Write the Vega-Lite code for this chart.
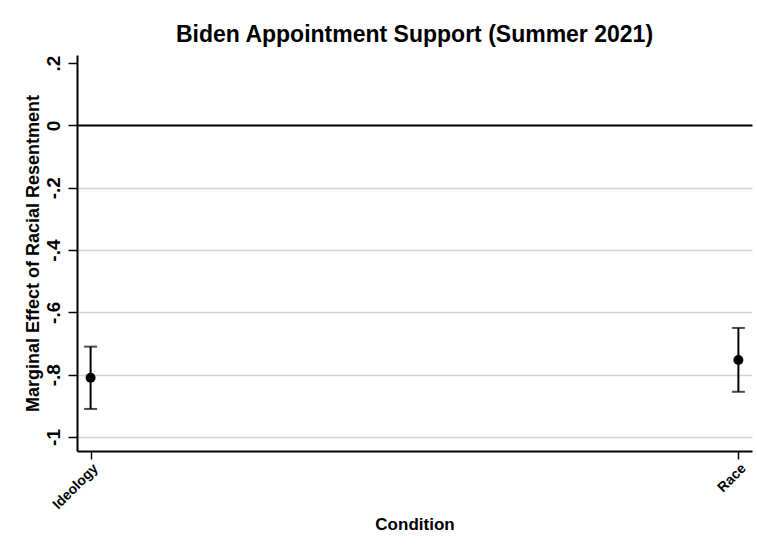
{
  "$schema": "https://vega.github.io/schema/vega-lite/v6.json",
  "width": 675,
  "height": 396,
  "autosize": {"type": "none"},
  "padding": {"left": 77, "top": 55, "right": 5, "bottom": 103},
  "background": "white",
  "config": {
    "font": "Liberation Sans",
    "view": {"stroke": null},
    "axis": {"domainColor": "black", "domainWidth": 2, "tickColor": "black", "tickWidth": 1.5, "tickSize": 8, "labelColor": "black", "titleColor": "black", "labelFontWeight": "bold", "titleFontWeight": "bold"}
  },
  "title": {"text": "Biden Appointment Support (Summer 2021)", "fontSize": 23, "fontWeight": "bold", "color": "black", "offset": 8, "anchor": "middle", "font": "Liberation Sans"},
  "data": {"values": [
    {"condition": "Ideology", "effect": -0.81, "lower": -0.91, "upper": -0.71},
    {"condition": "Race", "effect": -0.753, "lower": -0.855, "upper": -0.65}
  ]},
  "encoding": {
    "x": {"field": "condition", "type": "ordinal", "sort": null,
      "scale": {"type": "point", "padding": 0.021},
      "axis": {"title": "Condition", "titleFontSize": 17, "titlePadding": 5, "labelAngle": -45, "labelFontSize": 14, "labelPadding": 2, "grid": false}}
  },
  "layer": [
    {
      "data": {"values": [{"v": 0.2}, {"v": 0}, {"v": -0.2}, {"v": -0.4}, {"v": -0.6}, {"v": -0.8}, {"v": -1}]},
      "mark": {"type": "rule", "strokeWidth": 0, "opacity": 0},
      "encoding": {
        "x": null,
        "y": {"field": "v", "type": "quantitative",
          "scale": {"domain": [-1.045, 0.226], "nice": false, "zero": false},
          "axis": {"title": "Marginal Effect of Racial Resentment", "titleFontSize": 18, "titlePadding": 2,
            "values": [0.2, 0, -0.2, -0.4, -0.6, -0.8, -1],
            "tickSize": 9,
            "labelAngle": -90, "labelAlign": "center", "labelBaseline": "bottom", "labelFontSize": 19, "labelPadding": 5,
            "labelExpr": "datum.value == 0 ? '0' : (datum.value < 0 ? '-' : '') + replace(format(abs(datum.value), '~g'), '0.', '.')",
            "grid": true,
            "gridColor": {"condition": [{"test": "datum.value == 0", "value": "black"}, {"test": "datum.value > 0.1", "value": "transparent"}], "value": "#d4d4d4"},
            "gridWidth": {"condition": {"test": "datum.value == 0", "value": 2}, "value": 1.5}
          }}
      }
    },
    {
      "mark": {"type": "rule", "color": "black", "strokeWidth": 2},
      "encoding": {"y": {"field": "lower", "type": "quantitative"}, "y2": {"field": "upper"}}
    },
    {
      "mark": {"type": "tick", "color": "black", "thickness": 2, "size": 13},
      "encoding": {"y": {"field": "lower", "type": "quantitative"}}
    },
    {
      "mark": {"type": "tick", "color": "black", "thickness": 2, "size": 13},
      "encoding": {"y": {"field": "upper", "type": "quantitative"}}
    },
    {
      "mark": {"type": "point", "filled": true, "color": "black", "opacity": 1, "size": 100},
      "encoding": {"y": {"field": "effect", "type": "quantitative"}}
    }
  ]
}
